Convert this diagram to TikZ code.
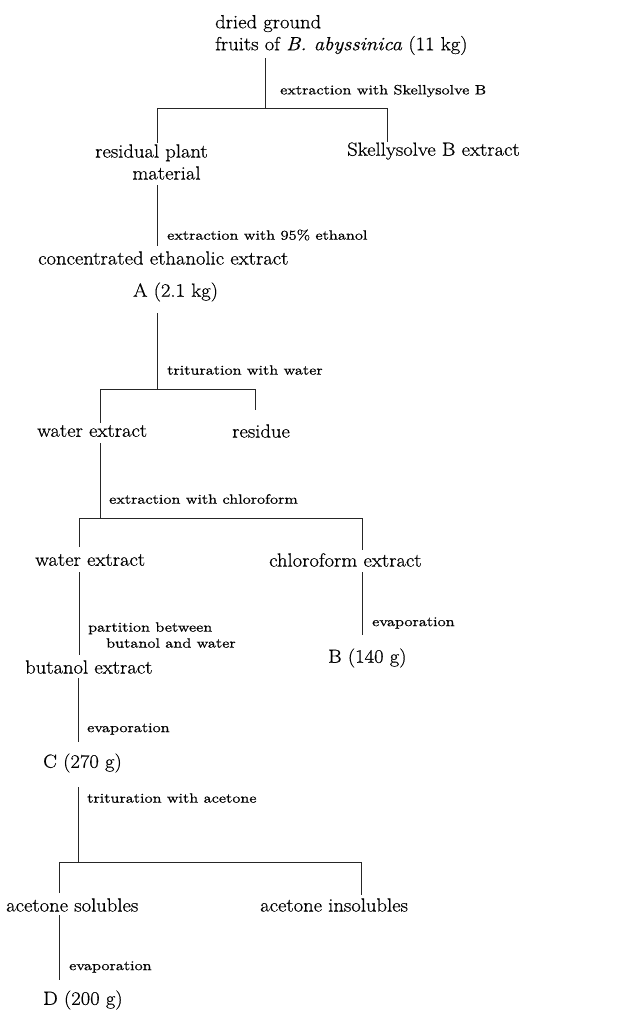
\documentclass[tikz,border=0pt]{standalone}
\usepackage{fontspec}
\setmainfont{Latin Modern Roman}
\newfontfamily\mainfnt[FakeStretch=1.085,FakeBold=0.6]{Latin Modern Roman}
\newfontfamily\lblfnt[FakeStretch=1.22,FakeBold=0.8]{Latin Modern Roman}
\begin{document}
\begin{tikzpicture}[x=1pt,y=-1pt,
  main/.style={inner sep=0pt,anchor=west,font=\mainfnt\fontsize{19}{22}\selectfont},
  lbl/.style={inner sep=0pt,anchor=west,font=\lblfnt\fontsize{13.5}{16}\selectfont},
  conn/.style={line width=0.7pt,black!85}]
\useasboundingbox (0,0) rectangle (628,1010);
% nodes
\node[main,align=left] (top) at (215,35) {dried ground\\fruits of \textit{B. abyssinica} (11 kg)};
\node[main,align=center] (resid) at (95,162) {residual plant\\\hspace*{30pt}material};
\node[main] (skelly) at (347,151) {Skellysolve B extract};
\node[main] (conc) at (38,258) {concentrated ethanolic extract};
\node[main] (A) at (133,292) {A (2.1 kg)};
\node[main] (water1) at (37,431) {water extract};
\node[main] (residue) at (232,431) {residue};
\node[main] (water2) at (35,560) {water extract};
\node[main] (chloro) at (269,560) {chloroform extract};
\node[main] (B) at (328,658) {B (140 g)};
\node[main] (butanol) at (25,667) {butanol extract};
\node[main] (C) at (43,763) {C (270 g)};
\node[main] (sol) at (6,905) {acetone solubles};
\node[main] (insol) at (260,905) {acetone insolubles};
\node[main] (D) at (43,1000) {D (200 g)};
% labels
\node[lbl] (l1) at (280,91) {extraction with Skellysolve B};
\node[lbl] (l2) at (167,235) {extraction with 95\% ethanol};
\node[lbl] (l3) at (167,370) {trituration with water};
\node[lbl] (l4) at (109,499) {extraction with chloroform};
\node[lbl,align=left] (l5) at (88,635) {partition between\\\hspace*{18pt}butanol and water};
\node[lbl] (l6) at (372,623) {evaporation};
\node[lbl] (l7) at (87,729) {evaporation};
\node[lbl] (l8) at (87,798) {trituration with acetone};
\node[lbl] (l9) at (69,967) {evaporation};
% junction coordinates
\coordinate (t1) at (265,58);
\coordinate (j1) at (265,108);
\coordinate (j1l) at (157,108);
\coordinate (j1r) at (387,108);
\coordinate (e1l) at (157,143);
\coordinate (e1r) at (387,142);
\coordinate (t2) at (157,185);
\coordinate (e2) at (157,246);
\coordinate (t3) at (157,313);
\coordinate (j3) at (157,389);
\coordinate (j3l) at (100,389);
\coordinate (j3r) at (255,389);
\coordinate (e3l) at (100,423);
\coordinate (e3r) at (255,410);
\coordinate (t4) at (100,443);
\coordinate (j4) at (100,518);
\coordinate (j4l) at (79,518);
\coordinate (j4r) at (362,518);
\coordinate (e4l) at (79,547);
\coordinate (e4r) at (362,550);
\coordinate (t5) at (79,572);
\coordinate (e5) at (79,655);
\coordinate (t6) at (362,572);
\coordinate (e6) at (362,635);
\coordinate (t7) at (78,678);
\coordinate (e7) at (78,742);
\coordinate (t8) at (78,787);
\coordinate (j8) at (78,862);
\coordinate (j8l) at (59,862);
\coordinate (j8r) at (361,862);
\coordinate (e8l) at (59,893);
\coordinate (e8r) at (361,895);
\coordinate (t9) at (59,915);
\coordinate (e9) at (59,980);
% connectors
\draw[conn] (t1) -- (j1);
\draw[conn] (e1l) -- (j1l) -- (j1r) -- (e1r);
\draw[conn] (t2) -- (e2);
\draw[conn] (t3) -- (j3);
\draw[conn] (e3l) -- (j3l) -- (j3r) -- (e3r);
\draw[conn] (t4) -- (j4);
\draw[conn] (e4l) -- (j4l) -- (j4r) -- (e4r);
\draw[conn] (t5) -- (e5);
\draw[conn] (t6) -- (e6);
\draw[conn] (t7) -- (e7);
\draw[conn] (t8) -- (j8);
\draw[conn] (e8l) -- (j8l) -- (j8r) -- (e8r);
\draw[conn] (t9) -- (e9);
\end{tikzpicture}
\end{document}
